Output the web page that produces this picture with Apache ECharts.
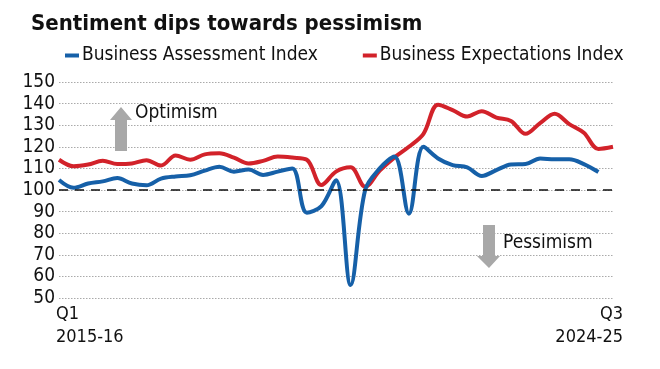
<!DOCTYPE html>
<html>
<head>
<meta charset="utf-8">
<script src="https://cdn.jsdelivr.net/npm/echarts@6/dist/echarts.min.js"></script>
<style>
html,body{margin:0;padding:0;background:#fff;}
#chart{width:660px;height:369px;}
</style>
</head>
<body>
<div id="chart"></div>
<script>
// Quarters Q1 2015-16 .. Q3 2024-25 (39 quarters)
const quarters = [];
const fyears = ['2015-16','2016-17','2017-18','2018-19','2019-20','2020-21','2021-22','2022-23','2023-24','2024-25'];
for (const fy of fyears) {
  for (const q of ['Q1','Q2','Q3','Q4']) {
    if (fy === '2024-25' && q === 'Q4') break;
    quarters.push(q + '\n' + fy);
  }
}

const assessment = [
  104.6, 101, 103, 104, 105.5, 103, 102.2, 105.3, 106.3, 106.8,
  109, 110.8, 108.5, 109.5, 107, 108.5, 110, 89.5, 92.5, 104.5,
  56, 100, 110, 115.5, 89, 120, 114.6, 111.5, 110.5, 106.5,
  109.2, 111.8, 112, 114.6, 114.2, 114.2, 112, 108.3
];

const expectations = [
  114, 111, 111.8, 113.5, 112, 112.3, 113.8, 111.3, 116, 114,
  116.5, 117, 115, 112.3, 113.5, 115.5, 115, 114, 102.3, 108.5,
  110.5, 101.5, 109, 115, 120, 126, 139.5, 137, 134, 136.5,
  133.5, 132, 126, 131, 135.3, 130.5, 126.5, 119, 120
];

const yTicks = [50, 60, 70, 80, 90, 100, 110, 120, 130, 140, 150];
const seriesNames = ['Business Assessment Index', 'Business Expectations Index'];
const titleText = 'Sentiment dips towards pessimism';

const FONT = '"DejaVu Sans Condensed", "Liberation Sans Narrow", Roboto, sans-serif';

const chart = echarts.init(document.getElementById('chart'), null, {renderer: 'canvas'});
const lastIdx = quarters.length - 1;

chart.setOption({
  animation: false,
  backgroundColor: '#ffffff',
  title: {
    text: titleText,
    left: 26, top: 8,
    textStyle: {fontFamily: FONT, fontWeight: 'bold', fontSize: 22, color: '#111'}
  },
  legend: {
    left: 60, top: 41,
    icon: 'rect', itemWidth: 14, itemHeight: 4, itemGap: 45,
    textStyle: {fontFamily: FONT, fontSize: 19, color: '#111', padding: [0,0,0,-2]},
    data: seriesNames
  },
  grid: {left: 59, right: 47, top: 82, bottom: 71, containLabel: false},
  xAxis: {
    type: 'category',
    data: quarters,
    boundaryGap: false,
    axisLine: {show: false},
    axisTick: {show: false},
    splitLine: {show: false},
    axisLabel: {
      interval: 0,
      margin: 5,
      fontFamily: FONT, fontSize: 18, color: '#111', lineHeight: 23,
      alignMinLabel: 'left', alignMaxLabel: 'right',
      formatter: function (v, i) {
        if (i === 0) return '{l|' + v.replace('\n', '}\n{l|') + '}';
        if (i === lastIdx) return '{r|' + v.replace('\n', '}\n{r|') + '}';
        return '';
      },
      rich: {
        l: {fontFamily: FONT, fontSize: 18, color: '#111', lineHeight: 23, padding: [0, 0, 0, -3]},
        r: {fontFamily: FONT, fontSize: 18, color: '#111', lineHeight: 23, padding: [0, -10, 0, 0]}
      }
    }
  },
  yAxis: {
    type: 'value',
    min: yTicks[0], max: yTicks[yTicks.length - 1], interval: 10,
    axisLine: {show: false},
    axisTick: {show: false},
    axisLabel: {fontFamily: FONT, fontSize: 19, color: '#111', margin: 4},
    splitLine: {lineStyle: {color: '#aaaaaa', type: [1.5, 1.5], width: 1}}
  },
  series: [
    {
      name: seriesNames[0], type: 'line', data: assessment, smooth: 0.35,
      symbol: 'none', z: 3,
      lineStyle: {color: '#1660a8', width: 4},
      itemStyle: {color: '#1660a8'}
    },
    {
      name: seriesNames[1], type: 'line', data: expectations, smooth: 0.35,
      symbol: 'none', z: 2,
      lineStyle: {color: '#d2222a', width: 4},
      itemStyle: {color: '#d2222a'},
      markLine: {
        silent: true, symbol: 'none', label: {show: false},
        lineStyle: {color: '#111', type: [9, 7], width: 1.6},
        data: [{yAxis: 100}]
      }
    }
  ],
  graphic: [
    {
      type: 'polygon', z: 1,
      shape: {points: [[115,151],[127,151],[127,120],[132,120],[121,107],[110,120],[115,120]]},
      style: {fill: '#a8a8a8'}
    },
    {
      type: 'text', left: 135, top: 104,
      style: {text: 'Optimism', font: '19px ' + FONT, fill: '#111'}
    },
    {
      type: 'polygon', z: 1,
      shape: {points: [[483,225],[495,225],[495,256],[500,256],[489,268],[477,256],[483,256]]},
      style: {fill: '#a8a8a8'}
    },
    {
      type: 'text', left: 503, top: 234,
      style: {text: 'Pessimism', font: '19px ' + FONT, fill: '#111'}
    }
  ]
});
</script>
</body>
</html>
